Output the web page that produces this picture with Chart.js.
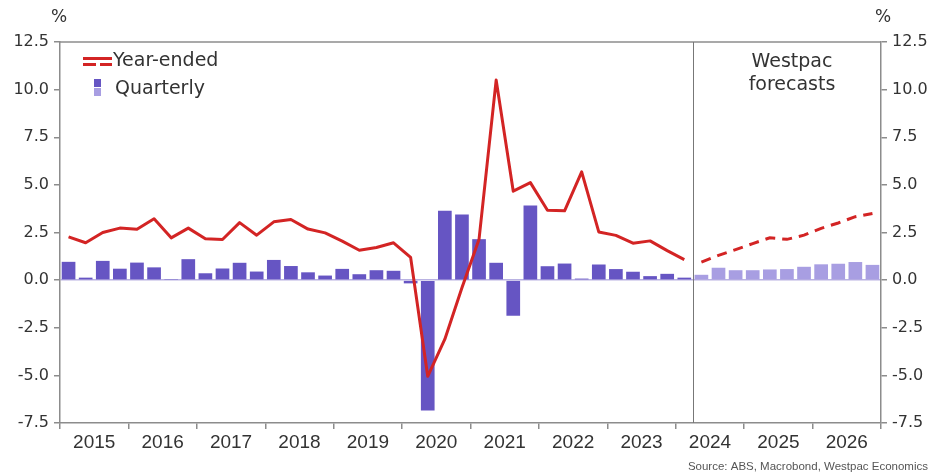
<!DOCTYPE html>
<html>
<head>
<meta charset="utf-8">
<script src="https://cdn.jsdelivr.net/npm/chart.js@4"></script>
<style>
  html, body { margin: 0; padding: 0; background: #fff; }
  #wrap { width: 933px; height: 476px; }
</style>
</head>
<body>
<div id="wrap"><canvas id="chart" width="933" height="476"></canvas></div>
<script>
// --- data ---
const years = ['2015', '2016', '2017', '2018', '2019', '2020', '2021', '2022', '2023', '2024', '2025', '2026'];
const quarterNames = ['Q1', 'Q2', 'Q3', 'Q4'];

// quarterly % change, 2015Q1 - 2024Q1 (actual)
const actualBars = [0.96, 0.13, 1.01, 0.60, 0.92, 0.67, 0.02, 1.10, 0.36, 0.61, 0.91, 0.45,
                    1.06, 0.74, 0.41, 0.24, 0.59, 0.31, 0.52, 0.49, -0.17, -6.85, 3.64, 3.44,
                    2.15, 0.91, -1.87, 3.92, 0.73, 0.87, 0.08, 0.82, 0.58, 0.44, 0.21, 0.33, 0.13];
// quarterly % change, 2024Q2 - 2026Q4 (forecast)
const forecastBars = [0.28, 0.65, 0.52, 0.52, 0.56, 0.58, 0.70, 0.83, 0.86, 0.95, 0.80];

// year-ended % change
const actualLine = [2.27, 1.96, 2.50, 2.73, 2.67, 3.22, 2.22, 2.73, 2.17, 2.13, 3.02, 2.36,
                    3.06, 3.18, 2.68, 2.48, 2.05, 1.57, 1.71, 1.96, 1.19, -5.05, -3.1, -0.4,
                    2.15, 10.5, 4.67, 5.12, 3.67, 3.64, 5.68, 2.53, 2.35, 1.94, 2.06, 1.55, 1.08];
const forecastLine = [0.95, 1.30, 1.60, 1.92, 2.22, 2.14, 2.36, 2.72, 3.00, 3.33, 3.50];

const yMin = -7.5, yMax = 12.5, yStep = 2.5;

const quarterLabels = years.flatMap(y => quarterNames.map(q => y + ' ' + q));
const nActual = actualBars.length;
const nForecast = forecastBars.length;
const blanks = n => Array(n).fill(null);

const RED = '#d32424';
const DARK = '#6655c3';
const LIGHT = '#a89ee2';
const AXIS = '#8c8c8c';
const TEXT = '#333333';
const FONT = "'DejaVu Sans', 'Open Sans', sans-serif";
const NARROW = "'Liberation Sans Narrow', 'Liberation Sans', sans-serif";

// --- extra drawing: frame top, forecast divider, legend, notes ---
const decorations = {
    id: 'decorations',
    afterDraw(chart) {
        const ctx = chart.ctx;
        const area = chart.chartArea;
        const xs = chart.scales.x;
        ctx.save();

        // top frame line
        ctx.strokeStyle = AXIS;
        ctx.lineWidth = 1.5;
        ctx.beginPath();
        ctx.moveTo(area.left, area.top);
        ctx.lineTo(area.right, area.top);
        ctx.stroke();

        // divider between actual and forecast
        const xd = Math.round((xs.getPixelForValue(nActual - 1) + xs.getPixelForValue(nActual)) / 2) + 0.5;
        ctx.lineWidth = 1;
        ctx.strokeStyle = '#777';
        ctx.beginPath();
        ctx.moveTo(xd, area.top);
        ctx.lineTo(xd, area.bottom);
        ctx.stroke();

        // % units
        ctx.fillStyle = TEXT;
        ctx.font = '17px ' + FONT;
        ctx.textAlign = 'center';
        ctx.textBaseline = 'middle';
        ctx.fillText('%', area.left - 1, 18);
        ctx.fillText('%', area.right + 2, 18);

        // legend
        const lx = area.left + 23;
        ctx.strokeStyle = RED;
        ctx.lineWidth = 3;
        ctx.beginPath();
        ctx.moveTo(lx, 58.5);
        ctx.lineTo(lx + 29, 58.5);
        ctx.stroke();
        ctx.beginPath();
        ctx.moveTo(lx, 64.5);
        ctx.lineTo(lx + 13, 64.5);
        ctx.moveTo(lx + 17, 64.5);
        ctx.lineTo(lx + 29, 64.5);
        ctx.stroke();
        ctx.fillStyle = DARK;
        ctx.fillRect(lx + 11, 79, 7, 8);
        ctx.fillStyle = LIGHT;
        ctx.fillRect(lx + 11, 88, 7, 8);

        ctx.fillStyle = TEXT;
        ctx.font = '19px ' + FONT;
        ctx.textAlign = 'left';
        ctx.fillText('Year-ended', lx + 30, 61);
        ctx.fillText('Quarterly', lx + 32, 89);

        // forecast note
        ctx.textAlign = 'center';
        ctx.fillText('Westpac', 792, 62);
        ctx.fillText('forecasts', 792, 85);

        // source
        ctx.fillStyle = '#555';
        ctx.font = '11.5px ' + NARROW;
        ctx.textAlign = 'right';
        ctx.fillText('Source: ABS, Macrobond, Westpac Economics', 928, 467);

        ctx.restore();
    }
};

const yTicks = {
    stepSize: yStep,
    color: TEXT,
    padding: 5,
    font: { family: FONT, size: 16 },
    callback: v => Number(v).toFixed(1)
};

new Chart(document.getElementById('chart'), {
    data: {
        labels: quarterLabels,
        datasets: [
            {
                type: 'line',
                label: 'Year-ended',
                data: actualLine.concat(blanks(nForecast)),
                borderColor: RED,
                borderWidth: 3,
                pointRadius: 0,
                tension: 0,
                borderJoinStyle: 'round'
            },
            {
                type: 'line',
                label: 'Year-ended (forecast)',
                data: blanks(nActual).concat(forecastLine),
                borderColor: RED,
                borderWidth: 3,
                borderDash: [10, 7],
                pointRadius: 0,
                tension: 0
            },
            {
                type: 'bar',
                label: 'Quarterly',
                data: actualBars.concat(blanks(nForecast)),
                backgroundColor: DARK,
                grouped: false,
                barPercentage: 0.8,
                categoryPercentage: 1
            },
            {
                type: 'bar',
                label: 'Quarterly (forecast)',
                data: blanks(nActual).concat(forecastBars),
                backgroundColor: LIGHT,
                grouped: false,
                barPercentage: 0.8,
                categoryPercentage: 1
            }
        ]
    },
    options: {
        responsive: false,
        animation: false,
        devicePixelRatio: 1,
        layout: { padding: { top: 42, left: 0, right: 0, bottom: 0 } },
        plugins: { legend: { display: false }, tooltip: { enabled: false } },
        scales: {
            x: {
                type: 'category',
                display: false,
                offset: true
            },
            xYears: {
                type: 'category',
                labels: years,
                position: 'bottom',
                offset: true,
                grid: { offset: true, drawOnChartArea: false, tickLength: 6, color: AXIS, lineWidth: 1.5 },
                border: { color: AXIS, width: 1.5 },
                ticks: {
                    autoSkip: false,
                    maxRotation: 0,
                    padding: 2,
                    color: TEXT,
                    font: { family: NARROW, size: 19 }
                },
                afterFit: s => { s.height = 53; }
            },
            y: {
                position: 'left',
                min: yMin,
                max: yMax,
                ticks: yTicks,
                grid: {
                    drawOnChartArea: true,
                    tickLength: 6,
                    tickColor: AXIS,
                    lineWidth: 1.5,
                    color: c => (c.tick && c.tick.value === 0) ? '#b9b2e2' : 'rgba(0,0,0,0)'
                },
                border: { color: AXIS, width: 1.5 },
                afterFit: s => { s.width = 60; }
            },
            y2: {
                position: 'right',
                min: yMin,
                max: yMax,
                ticks: yTicks,
                grid: { drawOnChartArea: false, tickLength: 6, color: AXIS, lineWidth: 1.5 },
                border: { color: AXIS, width: 1.5 },
                afterFit: s => { s.width = 52; }
            }
        }
    },
    plugins: [decorations]
});
</script>
</body>
</html>
